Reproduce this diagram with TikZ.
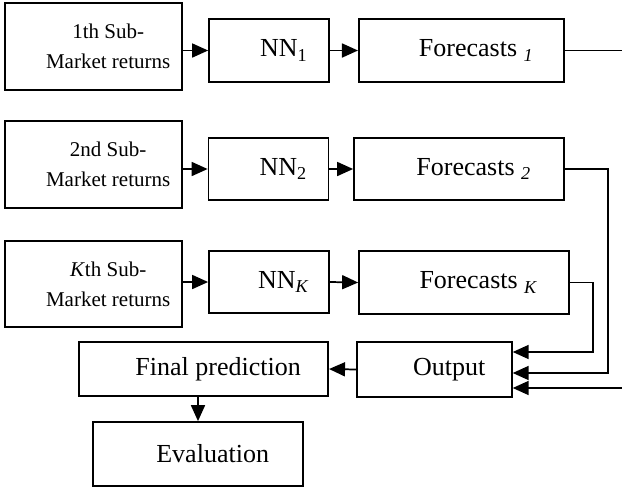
\documentclass[tikz,border=0pt]{standalone}
\usepackage{fontspec}
\setmainfont{Liberation Serif}
\usetikzlibrary{arrows.meta,calc}

\begin{document}
\begin{tikzpicture}[x=0.75pt, y=-0.75pt,
    every node/.style={font=\fontsize{19.5}{23}\selectfont},
    box/.style={draw, line width=1.3pt, inner sep=0pt, execute at begin node={\hspace*{22pt}}},
    srcbox/.style={box, minimum width=133pt, minimum height=65pt, align=center,
      font=\fontsize{15.75}{22.5}\selectfont},
    nnbox/.style={box, minimum width=90pt, minimum height=47pt},
    fcbox/.style={box, minimum width=157.5pt, minimum height=47pt},
    link/.style={line width=1.3pt, -{Triangle[length=12pt,width=10.5pt]}}]
  \useasboundingbox (0,0) rectangle (622,487);

  % sub-markets
  \node[srcbox] (src1) at (93.5,46.5) {1th Sub-\\Market returns};
  \node[srcbox] (src2) at (93.5,164.5) {2nd Sub-\\Market returns};
  \node[srcbox] (src3) at (93.5,284) {\textit{K}th Sub-\\Market returns};

  % networks
  \node[nnbox] (nn1) at (269,50.5) {NN\textsubscript{1}};
  \node[nnbox] (nn2) at (268.5,169) {NN\textsubscript{2}};
  \node[nnbox] (nn3) at (269,282) {NN\textsubscript{\textit{K}}};

  % forecasts
  \node[fcbox, minimum width=154pt] (fc1) at (461.5,50.5) {Forecasts \textsubscript{\textit{1}}};
  \node[fcbox] (fc2) at (459,169) {Forecasts \textsubscript{\textit{2}}};
  \node[fcbox] (fc3) at (464,282.5) {Forecasts \textsubscript{\textit{K}}};

  \node[box, minimum width=116pt, minimum height=41pt] (out) at (434.5,369.5) {Output};
  \node[box, minimum width=187pt, minimum height=40.5pt] (final) at (203.5,369) {Final prediction};
  \node[box, minimum width=157.5pt, minimum height=48pt] (eval) at (198,454) {Evaluation};

  \coordinate (inK) at ($(out.east)+(0,-17.5)$);
  \coordinate (in2) at ($(out.east)+(0,3.5)$);
  \coordinate (in1) at ($(out.east)+(0,18.5)$);

  \foreach \i in {1,2,3} {
    \draw[link] (src\i.east |- nn\i) -- (nn\i.west);
    \draw[link] (nn\i.east) -- (fc\i.west);
  }
  \draw[link] (fc3.east) -- ++(23,0) |- (inK);
  \draw[link] (fc2.east) -- ++(43,0) |- (in2);
  \begin{scope}
    \clip (0,0) rectangle (622,487);
    \draw[link] (fc1.east) -- ++(70,0) |- (in1);
  \end{scope}
  \draw[link] (out.west) -- (final.east);
  \draw[link] (final.south -| eval) -- (eval.north);
\end{tikzpicture}
\end{document}
